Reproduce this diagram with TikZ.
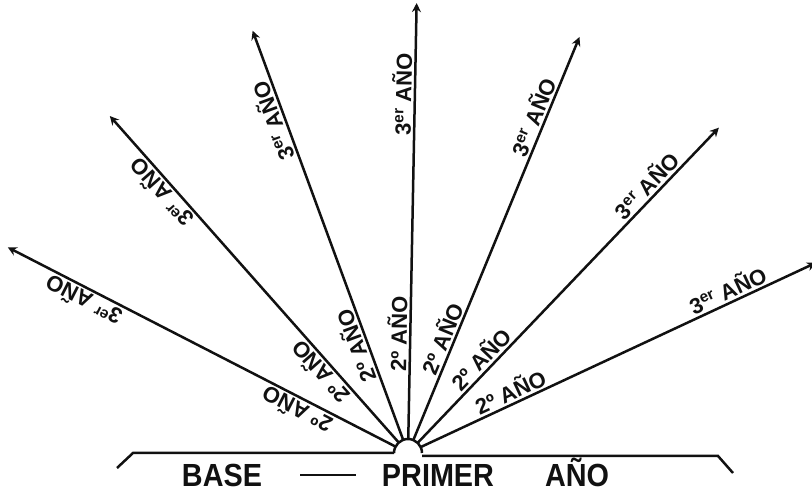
\documentclass[tikz,border=0pt]{standalone}
\usepackage{fontspec}
\setmainfont{Liberation Sans}
\usetikzlibrary{arrows.meta, positioning, calc}
\definecolor{ink}{HTML}{111111}

\begin{document}
\begin{tikzpicture}[
  x=1pt, y=1pt,
  >={Stealth[length=9pt, width=9pt, inset=3pt]},
  ray/.style={->, line width=2.5pt, draw=ink},
  yearlab/.style={font=\fontsize{22}{22}\selectfont\bfseries, text=ink,
                  inner sep=2pt, anchor=south},
  baselab/.style={font=\fontsize{32}{32}\selectfont\bfseries, text=ink,
                  xscale=0.9, anchor=base, inner sep=0pt},
]
\useasboundingbox (0,0) rectangle (812,493);

% =============================================
% Fan of years
% =============================================
\coordinate (O) at (408,40);
\draw[line width=2.5pt, ink] ($(O)+(-14,0)$) arc[start angle=180, end angle=0, radius=14];

\foreach \i in {0,...,6} {
  \pgfmathsetmacro{\a}{25 + \i*21.3}
  \coordinate (s\i) at ($(O)+(\a:14)$);
  \coordinate (e\i) at ($(O)+(\a:450)$);
  \draw[ray] (s\i) -- (e\i)
    node[pos=0.24, yearlab, rotate=\a] (dos\i) {2º AÑO}
    node[pos=0.79, yearlab, rotate=\a] (tres\i) {3\textsuperscript{er} AÑO};
}

% =============================================
% Base
% =============================================
\draw[line width=2.5pt, ink] (117,25) -- (133,40) -- ($(O)+(-14,0)$);
\draw[line width=2.5pt, ink] ($(O)+(14,-3)$) -- (718,37) -- (733,20);

\node[baselab] (base) at (222,6) {BASE};
\node[baselab] (primer) at (438,6) {PRIMER};
\node[baselab] (ano) at (577,6) {AÑO};
\coordinate (dashL) at (300,18);
\coordinate (dashR) at (356,18);
\draw[line width=2.8pt, ink] (dashL) -- (dashR);

\end{tikzpicture}
\end{document}
